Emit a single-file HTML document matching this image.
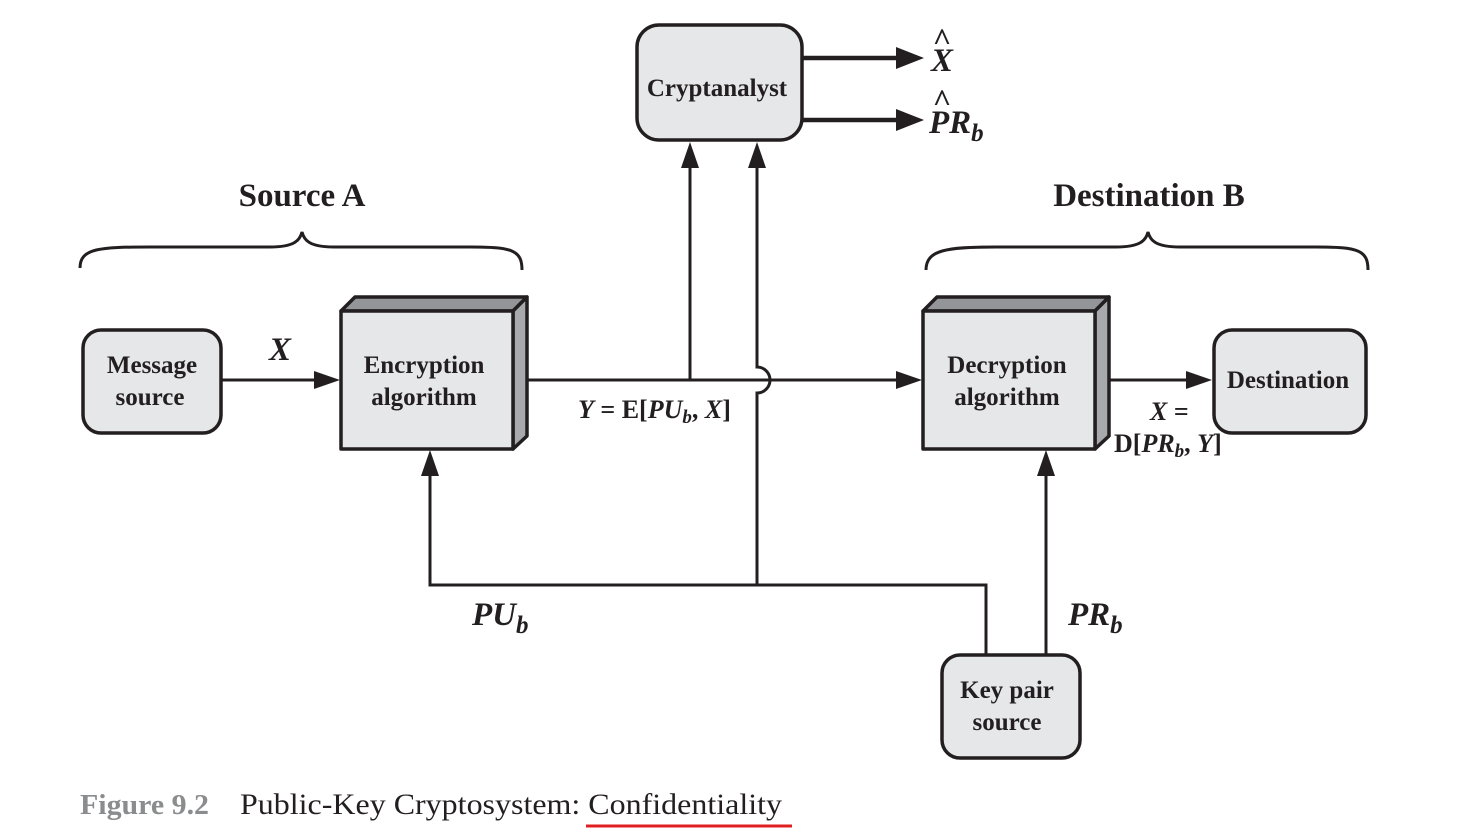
<!DOCTYPE html>
<html><head><meta charset="utf-8"><style>
html,body{margin:0;padding:0;background:#fff;}
svg{display:block;}
.t{font-family:"Liberation Serif",serif;font-weight:bold;fill:#231f20;}
</style></head><body>
<svg width="1468" height="838" viewBox="0 0 1468 838" xmlns="http://www.w3.org/2000/svg">
<g stroke="#231f20" stroke-width="3" fill="none">
<path d="M80,268 C80,248 100,247 150,247 L270,247 C295,247 300,240 302,232 C304,240 309,247 334,247 L470,247 C512,247 522,250 522,270"/>
<path d="M926,270 C926,250 946,247 996,247 L1116,247 C1141,247 1146,240 1148,232 C1150,240 1155,247 1180,247 L1316,247 C1358,247 1368,250 1368,270"/>
<line x1="221" y1="380" x2="322" y2="380"/>
<line x1="520" y1="380" x2="904" y2="380"/>
<line x1="690" y1="380" x2="690" y2="162"/>
<path d="M757,585 L757,393 A13,13 0 0 0 757,367 L757,162"/>
<path d="M430,470 L430,585 L986,585 L986,655"/>
<line x1="1046" y1="655" x2="1046" y2="470"/>
<line x1="1100" y1="380" x2="1194" y2="380"/>
<line x1="802" y1="58" x2="902" y2="58" stroke-width="4.5"/>
<line x1="802" y1="120" x2="902" y2="120" stroke-width="4.5"/>
</g>
<g fill="#231f20">
<polygon points="340,380 314,371 314,389"/>
<polygon points="922,380 896,371 896,389"/>
<polygon points="1212,380 1186,371 1186,389"/>
<polygon points="690,142 681,168 699,168"/>
<polygon points="757,142 748,168 766,168"/>
<polygon points="430,450 421,476 439,476"/>
<polygon points="1046,450 1037,476 1055,476"/>
<polygon points="924,58 896,47 896,69"/>
<polygon points="924,120 896,109 896,131"/>
</g>
<g stroke="#231f20" stroke-width="3.5" stroke-linejoin="round">
<rect x="83" y="330" width="138" height="103" rx="18" fill="#e6e7e8"/>
<rect x="637" y="25" width="165" height="115" rx="22" fill="#e6e7e8"/>
<rect x="1214" y="330" width="152" height="103" rx="18" fill="#e6e7e8"/>
<rect x="942" y="655" width="138" height="103" rx="18" fill="#e6e7e8"/>
<polygon points="341,311 355,297 527,297 513,311" fill="#939598"/>
<polygon points="513,311 527,297 527,436 513,449" fill="#a7a9ac"/>
<rect x="341" y="311" width="172" height="138" fill="#e6e7e8"/>
<polygon points="923,311 937,297 1109,297 1095,311" fill="#939598"/>
<polygon points="1095,311 1109,297 1109,436 1095,449" fill="#a7a9ac"/>
<rect x="923" y="311" width="172" height="138" fill="#e6e7e8"/>
</g>
<g class="t" font-size="25" text-anchor="middle">
<text x="152" y="373">Message</text><text x="150" y="405">source</text>
<text x="424" y="373">Encryption</text><text x="424" y="405">algorithm</text>
<text x="1007" y="373">Decryption</text><text x="1007" y="405">algorithm</text>
<text x="717" y="96">Cryptanalyst</text>
<text x="1288" y="388">Destination</text>
<text x="1007" y="698">Key pair</text><text x="1007" y="730">source</text>
<text x="302" y="206" font-size="33">Source A</text>
<text x="1149" y="206" font-size="33">Destination B</text>
</g>
<g class="t" font-style="italic">
<text x="280" y="360" font-size="33" text-anchor="middle">X</text>
<text x="942" y="71" font-size="33" text-anchor="middle">X</text>
<text x="942" y="50" font-size="32" font-style="normal" text-anchor="middle">^</text>
<text x="929" y="133" font-size="33">PR<tspan font-size="25" dy="8">b</tspan></text>
<text x="942" y="111" font-size="32" font-style="normal" text-anchor="middle">^</text>
<text x="472" y="625" font-size="33">PU<tspan font-size="25" dy="8">b</tspan></text>
<text x="1068" y="625" font-size="33">PR<tspan font-size="25" dy="8">b</tspan></text>
<text x="578" y="418" font-size="26">Y<tspan font-style="normal"> = E[</tspan>PU<tspan font-size="19" dy="5">b</tspan><tspan dy="-5" font-style="normal">, </tspan>X<tspan font-style="normal">]</tspan></text>
<text x="1150" y="420" font-size="26">X<tspan font-style="normal"> =</tspan></text>
<text x="1114" y="452" font-size="26"><tspan font-style="normal">D[</tspan>PR<tspan font-size="19" dy="5">b</tspan><tspan dy="-5" font-style="normal">, </tspan>Y<tspan font-style="normal">]</tspan></text>
</g>
<text x="80" y="814" font-family="Liberation Serif,serif" font-weight="bold" font-size="29" fill="#8a8c8e" textLength="129" lengthAdjust="spacingAndGlyphs">Figure 9.2</text>
<text x="240" y="814" font-family="Liberation Serif,serif" font-size="30" fill="#231f20" textLength="542" lengthAdjust="spacingAndGlyphs">Public-Key Cryptosystem: Confidentiality</text>
<line x1="586" y1="826" x2="792" y2="826" stroke="#e02020" stroke-width="3"/>
</svg>
</body></html>
